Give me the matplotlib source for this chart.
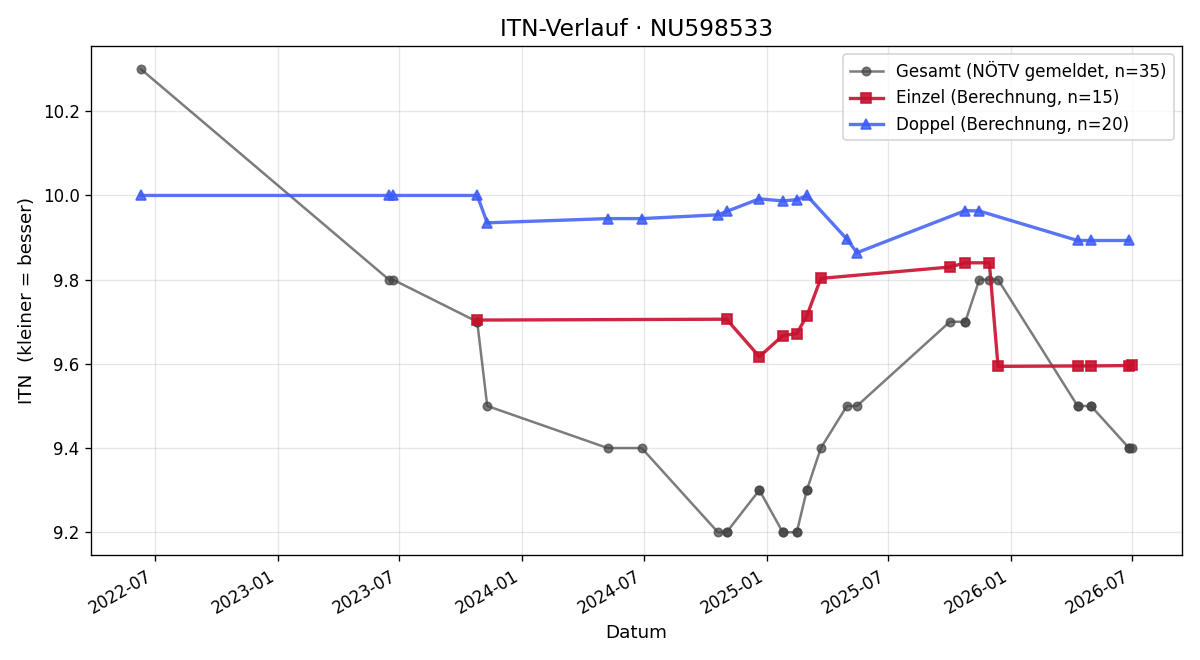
import matplotlib
matplotlib.use("Agg")
import matplotlib.pyplot as plt
import matplotlib.dates as mdates
import pandas as pd

# Doppel (Berechnung)
doppel_dates = ["2022-06-10", "2023-06-16", "2023-06-22", "2023-10-26", "2023-11-10",
                "2024-05-08", "2024-06-28", "2024-10-20", "2024-11-02", "2024-12-21",
                "2025-01-25", "2025-02-15", "2025-03-02", "2025-05-01", "2025-05-16",
                "2025-10-25", "2025-11-15", "2026-04-11", "2026-05-01", "2026-06-27"]
doppel_itn = [10.0, 10.0, 10.0, 10.0, 9.935,
              9.945, 9.945, 9.954, 9.962, 9.992,
              9.987, 9.99, 10.0, 9.896, 9.864,
              9.964, 9.963, 9.893, 9.893, 9.893]

# Einzel (Berechnung)
einzel_dates = ["2023-10-26", "2024-11-02", "2024-12-21", "2025-01-25", "2025-02-15",
                "2025-03-02", "2025-03-23", "2025-10-02", "2025-10-25", "2025-11-30",
                "2025-12-13", "2026-04-11", "2026-05-01", "2026-06-27", "2026-07-02"]
einzel_itn = [9.704, 9.706, 9.617, 9.667, 9.672,
              9.714, 9.803, 9.83, 9.84, 9.84,
              9.594, 9.595, 9.595, 9.596, 9.598]

# Gesamt (NÖTV gemeldet)
gesamt_dates = ["2022-06-10", "2023-06-16", "2023-06-22", "2023-10-26", "2023-10-26",
                "2023-11-10", "2024-05-08", "2024-06-28", "2024-10-20", "2024-11-02",
                "2024-11-02", "2024-12-21", "2024-12-21", "2025-01-25", "2025-01-25",
                "2025-02-15", "2025-02-15", "2025-03-02", "2025-03-02", "2025-03-23",
                "2025-05-01", "2025-05-16", "2025-10-02", "2025-10-25", "2025-10-25",
                "2025-11-15", "2025-11-30", "2025-12-13", "2026-04-11", "2026-04-11",
                "2026-05-01", "2026-05-01", "2026-06-27", "2026-06-27", "2026-07-02"]
gesamt_itn = [10.3, 9.8, 9.8, 9.7, 9.7,
              9.5, 9.4, 9.4, 9.2, 9.2,
              9.2, 9.3, 9.3, 9.2, 9.2,
              9.2, 9.2, 9.3, 9.3, 9.4,
              9.5, 9.5, 9.7, 9.7, 9.7,
              9.8, 9.8, 9.8, 9.5, 9.5,
              9.5, 9.5, 9.4, 9.4, 9.4]

fig, ax = plt.subplots(figsize=(10, 5.5), dpi=120)

ax.plot(pd.to_datetime(gesamt_dates), gesamt_itn, marker="o", markersize=5,
        color="#444444", alpha=0.7, linewidth=1.5,
        label=f"Gesamt (NÖTV gemeldet, n={len(gesamt_itn)})")
ax.plot(pd.to_datetime(einzel_dates), einzel_itn, marker="s", markersize=6,
        color="#c8102e", alpha=0.9, linewidth=2,
        label=f"Einzel (Berechnung, n={len(einzel_itn)})")
ax.plot(pd.to_datetime(doppel_dates), doppel_itn, marker="^", markersize=6,
        color="#3d5cf5", alpha=0.85, linewidth=2,
        label=f"Doppel (Berechnung, n={len(doppel_itn)})")

ax.set_title("ITN-Verlauf · NU598533", fontsize=14)
ax.set_xlabel("Datum", fontsize=11)
ax.set_ylabel("ITN  (kleiner = besser)", fontsize=11)
ax.xaxis.set_major_formatter(mdates.DateFormatter("%Y-%m"))
ax.grid(True, alpha=0.3)
ax.legend(loc="upper right")
fig.autofmt_xdate()
fig.tight_layout()
fig.savefig("out.png", dpi=120)
